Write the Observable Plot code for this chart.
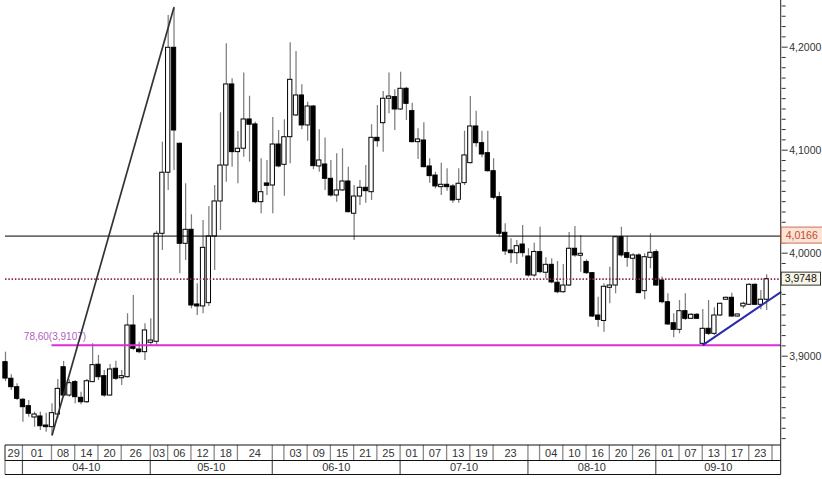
<!DOCTYPE html>
<html><head><meta charset="utf-8">
<script src="https://cdn.jsdelivr.net/npm/d3@7"></script>
<script src="https://cdn.jsdelivr.net/npm/@observablehq/plot@0.6"></script>
<style>html,body{margin:0;padding:0;background:#fff;}</style>
</head><body><div id="chart"></div>
<script>
const dates = ["2010-03-29","2010-03-30","2010-03-31",
"2010-04-01","2010-04-02","2010-04-05","2010-04-06","2010-04-07","2010-04-08","2010-04-09","2010-04-12","2010-04-13","2010-04-14","2010-04-15","2010-04-16","2010-04-19","2010-04-20","2010-04-21","2010-04-22","2010-04-23","2010-04-26","2010-04-27","2010-04-28","2010-04-29","2010-04-30",
"2010-05-03","2010-05-04","2010-05-05","2010-05-06","2010-05-07","2010-05-10","2010-05-11","2010-05-12","2010-05-13","2010-05-14","2010-05-17","2010-05-18","2010-05-19","2010-05-20","2010-05-21","2010-05-24","2010-05-25","2010-05-26","2010-05-27","2010-05-28","2010-05-31",
"2010-06-01","2010-06-02","2010-06-03","2010-06-04","2010-06-07","2010-06-08","2010-06-09","2010-06-10","2010-06-11","2010-06-14","2010-06-15","2010-06-16","2010-06-17","2010-06-18","2010-06-21","2010-06-22","2010-06-23","2010-06-24","2010-06-25","2010-06-28","2010-06-29","2010-06-30",
"2010-07-01","2010-07-02","2010-07-05","2010-07-06","2010-07-07","2010-07-08","2010-07-09","2010-07-12","2010-07-13","2010-07-14","2010-07-15","2010-07-16","2010-07-19","2010-07-20","2010-07-21","2010-07-22","2010-07-23","2010-07-26","2010-07-27","2010-07-28","2010-07-29","2010-07-30",
"2010-08-02","2010-08-03","2010-08-04","2010-08-05","2010-08-06","2010-08-09","2010-08-10","2010-08-11","2010-08-12","2010-08-13","2010-08-16","2010-08-17","2010-08-18","2010-08-19","2010-08-20","2010-08-23","2010-08-24","2010-08-25","2010-08-26","2010-08-27","2010-08-30","2010-08-31",
"2010-09-01","2010-09-02","2010-09-03","2010-09-06","2010-09-07","2010-09-08","2010-09-09","2010-09-10","2010-09-13","2010-09-14","2010-09-15","2010-09-16","2010-09-17","2010-09-20","2010-09-21","2010-09-22","2010-09-23","2010-09-24","2010-09-27","2010-09-28"];

const open = [3.8942,3.8781,3.8699,3.8577,3.8515,3.8405,3.8415,3.8327,3.8311,3.8434,
3.8893,3.8618,3.8748,3.8596,3.8553,3.8748,3.8917,3.8806,3.8618,3.8878,
3.8786,3.8796,3.9298,3.9065,3.9039,3.9130,3.9140,4.0188,4.0781,4.1994,
4.1062,4.0091,4.0227,3.9502,3.9483,3.9515,4.0162,4.0502,4.0851,4.1638,
4.0981,4.1014,4.1298,4.1250,4.0495,4.0677,4.0657,4.1055,4.0858,4.1126,
4.1337,4.1531,4.1240,4.1424,4.0842,4.0861,4.0722,4.0560,4.0609,4.0696,
4.0383,4.0550,4.0635,4.0592,4.1120,4.1262,4.1499,4.1515,4.1395,4.1596,
4.1379,4.1078,4.1094,4.0842,4.0754,4.0641,4.0664,4.0648,4.0518,4.0680,
4.0874,4.1230,4.1068,4.0971,4.0796,4.0544,4.0198,4.0026,4.0000,4.0084,
3.9968,3.9783,4.0010,3.9810,3.9887,3.9713,3.9621,3.9686,4.0043,3.9975,
3.9915,3.9806,3.9395,3.9342,3.9664,3.9686,4.0155,4.0000,3.9946,3.9978,
3.9631,3.9955,4.0010,3.9735,3.9524,3.9320,3.9256,3.9437,3.9363,3.9402,
3.9120,3.9266,3.9217,3.9395,3.9548,3.9567,3.9385,3.9483,3.9499,3.9693,
3.9499,3.9548];

const high = [3.9039,3.8819,3.8732,3.8590,3.8570,3.8456,3.8456,3.8447,3.8538,3.8774,
3.8949,3.8771,3.8764,3.8650,3.8774,3.9120,3.9007,3.8861,3.8919,3.8951,
3.8861,3.9412,3.9589,3.9136,3.9315,3.9363,4.0214,4.1078,4.2308,4.2388,
4.1070,4.0674,4.0373,3.9703,4.0317,4.0453,4.0657,4.1363,4.2033,4.1693,
4.1182,4.1748,4.1524,4.1272,4.0917,4.0900,4.1317,4.1191,4.1295,4.2043,
4.1958,4.1635,4.1466,4.1434,4.1198,4.1117,4.0900,4.0965,4.1014,4.0835,
4.0657,4.0706,4.0851,4.1247,4.1434,4.1570,4.1748,4.1586,4.1757,4.1610,
4.1456,4.1208,4.1266,4.0917,4.0786,4.0874,4.0819,4.0667,4.0819,4.1184,
4.1521,4.1379,4.1184,4.1184,4.0917,4.0592,4.0285,4.0140,4.0123,4.0269,
4.0043,4.0097,4.0252,3.9955,3.9946,3.9919,3.9890,4.0201,4.0259,4.0172,
3.9936,3.9810,3.9573,3.9703,3.9864,4.0160,4.0252,4.0162,3.9994,3.9994,
3.9994,4.0188,4.0033,3.9769,3.9606,3.9412,3.9541,3.9606,3.9415,3.9415,
3.9453,3.9541,3.9470,3.9515,3.9575,3.9612,3.9408,3.9524,3.9703,3.9703,
3.9638,3.9790];

const low = [3.8754,3.8667,3.8570,3.8359,3.8408,3.8311,3.8279,3.8262,3.8230,3.8392,
3.8602,3.8602,3.8538,3.8528,3.8541,3.8745,3.8764,3.8602,3.8612,3.8764,
3.8716,3.8788,3.9055,3.9023,3.8958,3.9104,3.9100,4.0026,4.0609,4.0803,
3.9800,3.9929,3.9460,3.9395,3.9412,3.9483,3.9832,4.0220,4.0689,4.0835,
4.0674,4.0932,4.0883,4.0480,4.0383,4.0560,4.0383,4.0829,4.0553,4.0868,
4.1327,4.1198,4.1087,4.0810,4.0786,4.0609,4.0544,4.0495,4.0600,4.0390,
4.0123,4.0463,4.0485,4.0512,4.1029,4.0981,4.1353,4.1191,4.1385,4.1288,
4.1070,4.0910,4.0830,4.0680,4.0625,4.0560,4.0602,4.0485,4.0485,4.0657,
4.0865,4.1029,4.0926,4.0786,4.0518,4.0155,3.9978,3.9903,3.9890,3.9961,
3.9767,3.9767,3.9800,3.9751,3.9703,3.9606,3.9612,3.9677,3.9961,3.9816,
3.9793,3.9376,3.9282,3.9233,3.9509,3.9606,3.9961,3.9864,3.9751,3.9606,
3.9548,3.9849,3.9677,3.9509,3.9298,3.9179,3.9217,3.9347,3.9357,3.9357,
3.9107,3.9201,3.9201,3.9385,3.9541,3.9379,3.9380,3.9460,3.9493,3.9493,
3.9450,3.9444];

const close = [3.8783,3.8699,3.8586,3.8505,3.8441,3.8434,3.8320,3.8311,3.8447,3.8683,
3.8618,3.8738,3.8602,3.8553,3.8757,3.8913,3.8796,3.8618,3.8871,3.8781,
3.8806,3.9298,3.9072,3.9039,3.9250,3.9152,4.0188,4.0781,4.1994,4.1191,
4.0091,4.0227,3.9492,3.9483,4.0052,4.0162,4.0502,4.0851,4.1638,4.0981,
4.1014,4.1298,4.1247,4.0495,4.0592,4.0654,4.1055,4.0842,4.1126,4.1683,
4.1531,4.1240,4.1424,4.0845,4.0900,4.0722,4.0560,4.0609,4.0696,4.0398,
4.0550,4.0635,4.0602,4.1120,4.1087,4.1499,4.1521,4.1395,4.1596,4.1450,
4.1078,4.1104,4.0835,4.0748,4.0648,4.0664,4.0641,4.0512,4.0674,4.0949,
4.1230,4.1068,4.0958,4.0796,4.0538,4.0188,4.0017,4.0000,4.0068,4.0000,
3.9783,4.0012,3.9816,3.9887,3.9716,3.9621,3.9686,4.0043,3.9978,3.9994,
3.9806,3.9385,3.9353,3.9674,3.9686,4.0155,3.9978,3.9955,3.9978,3.9612,
3.9961,4.0004,3.9686,3.9524,3.9308,3.9256,3.9437,3.9363,3.9402,3.9363,
3.9266,3.9217,3.9395,3.9509,3.9567,3.9385,3.9405,3.9509,3.9693,3.9499,
3.9548,3.9748];

// bottom axis: day boxes (start date, label) and month boxes
const dayLabels = [["2010-03-29","29"],["2010-04-01","01"],["2010-04-08","08"],["2010-04-14","14"],["2010-04-20","20"],["2010-04-26","26"],
["2010-05-03","03"],["2010-05-06","06"],["2010-05-12","12"],["2010-05-18","18"],["2010-05-24","24"],["2010-06-01",""],
["2010-06-03","03"],["2010-06-09","09"],["2010-06-15","15"],["2010-06-21","21"],["2010-06-25","25"],
["2010-07-01","01"],["2010-07-07","07"],["2010-07-13","13"],["2010-07-19","19"],["2010-07-23","23"],["2010-08-02",""],
["2010-08-04","04"],["2010-08-10","10"],["2010-08-16","16"],["2010-08-20","20"],["2010-08-26","26"],
["2010-09-01","01"],["2010-09-07","07"],["2010-09-13","13"],["2010-09-17","17"],["2010-09-23","23"],["2010-09-29",""]];
const monthLabels = [["2010-04-01","04-10"],["2010-05-03","05-10"],["2010-06-01","06-10"],["2010-07-01","07-10"],["2010-08-02","08-10"],["2010-09-01","09-10"]];

// right axis ticks
const majorTicks = [3.9, 4.0, 4.1, 4.2];
const minorTicks = [3.82,3.83,3.84,3.85,3.86,3.87,3.88,3.89,3.91,3.92,3.93,3.94,3.95,3.96,3.97,3.98,3.99,
4.01,4.02,4.03,4.04,4.05,4.06,4.07,4.08,4.09,4.11,4.12,4.13,4.14,4.15,4.16,4.17,4.18,4.19,4.21,4.22,4.23,4.24];

// annotations
const levelBlack = 4.0166;
const levelDotted = 3.9748;
const fib = {from: "2010-04-08", value: 3.9107, label: "78,60(3,9107)"};
const trendLine = {from: "2010-04-08", fromValue: 3.8230, to: "2010-05-07", toValue: 4.2388};
const supportLine = {from: "2010-09-13", fromValue: 3.9107, toValue: 3.9625};

const X_MAX = 133.5, Y_MIN = 3.8133, Y_MAX = 4.2453;
const idx = d => { const k = dates.indexOf(d); return k < 0 ? dates.length : k; };
const fmt = v => v.toFixed(4).replace(".", ",");
const data = dates.map((d, i) => ({i, date: d, open: open[i], high: high[i], low: low[i], close: close[i]}));

const strip = (index, scales, values, dims) => {
  const x = scales.x, y = scales.y;
  const g = d3.create("svg:g");
  const top = dims.height - dims.marginBottom, mid = top + 15.5, bot = top + 29.5;
  const left = dims.marginLeft, right = dims.width - dims.marginRight;
  const font = "'Liberation Sans', Arial, sans-serif";
  // day row
  dayLabels.forEach(([d, lab], k) => {
    const s = idx(d);
    const e = k + 1 < dayLabels.length ? idx(dayLabels[k + 1][0]) : X_MAX;
    g.append("line").attr("x1", x(s)).attr("x2", x(s)).attr("y1", top).attr("y2", mid)
      .attr("stroke", "#8a8a8a").attr("stroke-width", 1.3);
    if (lab) g.append("text").attr("x", (x(s) + x(e)) / 2).attr("y", (top + mid) / 2).attr("dy", "0.36em")
      .attr("text-anchor", "middle").attr("font-family", font).attr("font-size", 11).attr("fill", "#333").text(lab);
  });
  // month row
  g.append("line").attr("x1", left).attr("x2", left).attr("y1", top).attr("y2", bot).attr("stroke", "#666");
  monthLabels.forEach(([d, lab], k) => {
    const s = idx(d);
    const e = k + 1 < monthLabels.length ? idx(monthLabels[k + 1][0]) : X_MAX;
    g.append("line").attr("x1", x(s)).attr("x2", x(s)).attr("y1", mid).attr("y2", bot)
      .attr("stroke", "#555").attr("stroke-width", 1.2);
    g.append("text").attr("x", (x(s) + x(e)) / 2).attr("y", (mid + bot) / 2).attr("dy", "0.36em")
      .attr("text-anchor", "middle").attr("font-family", font).attr("font-size", 11).attr("fill", "#333").text(lab);
  });
  [top, mid, bot].forEach(yy => g.append("line").attr("x1", left).attr("x2", right).attr("y1", yy).attr("y2", yy)
    .attr("stroke", "#111").attr("stroke-width", 1));
  // axis line
  g.append("line").attr("x1", right).attr("x2", right).attr("y1", 0).attr("y2", bot).attr("stroke", "#222");
  // price tags
  const yb = y(levelBlack);
  g.append("rect").attr("x", right + 0.5).attr("y", yb - 8.5).attr("width", dims.width - right).attr("height", 16)
    .attr("fill", "#fce4d4").attr("stroke", "#c8705a").attr("stroke-width", 1);
  g.append("text").attr("x", right + 21).attr("y", yb).attr("dy", "0.36em").attr("text-anchor", "middle")
    .attr("font-family", font).attr("font-size", 10.5).attr("fill", "#c04a32").text(fmt(levelBlack));
  const yd = y(levelDotted);
  g.append("rect").attr("x", right + 0.5).attr("y", yd - 6.5).attr("width", dims.width - right - 2).attr("height", 13)
    .attr("fill", "#f7f5e6").attr("stroke", "#333").attr("stroke-width", 1);
  g.append("text").attr("x", right + 20).attr("y", yd).attr("dy", "0.36em").attr("text-anchor", "middle")
    .attr("font-family", font).attr("font-size", 10.5).attr("fill", "#111").text(fmt(levelDotted));
  return g.node();
};

const chart = Plot.plot({
  width: 822, height: 479,
  marginLeft: 5, marginRight: 41.3, marginTop: 0, marginBottom: 34,
  style: {fontFamily: "'Liberation Sans', Arial, sans-serif", fontSize: "10.5px", background: "#fff"},
  x: {type: "linear", domain: [0, X_MAX], axis: null},
  y: {domain: [Y_MIN, Y_MAX], axis: null, label: null},
  marks: [
    Plot.axisY(minorTicks, {anchor: "right", tickSize: 4, tickFormat: () => "", label: null, color: "#333"}),
    Plot.axisY(majorTicks, {anchor: "right", tickSize: 6, tickPadding: 2, tickFormat: fmt, label: null, color: "#333", fontSize: 10.5}),
    Plot.ruleX(data, {x: "i", y1: "low", y2: "high", stroke: "#7d7d7d", strokeWidth: 1.25}),
    Plot.rect(data, {x1: d => d.i - 0.37, x2: d => d.i + 0.37, y1: "open", y2: "close",
      fill: d => d.close >= d.open ? "#fff" : "#000", stroke: "#000", strokeWidth: 1}),
    Plot.ruleY([levelBlack], {stroke: "#000", strokeWidth: 1}),
    Plot.ruleY([levelDotted], {stroke: "#8e2a4a", strokeWidth: 1.6, strokeDasharray: "1.5,1.8"}),
    Plot.ruleY([fib], {y: "value", x1: d => idx(d.from), x2: () => X_MAX, stroke: "#d92ed9", strokeWidth: 2}),
    Plot.text([fib], {x: d => idx(d.from), y: "value", text: "label", dx: 3, dy: -8, fill: "#b060c0", fontSize: 10}),
    Plot.link([trendLine], {x1: d => idx(d.from), y1: "fromValue", x2: d => idx(d.to), y2: "toValue", stroke: "#333", strokeWidth: 1.7}),
    Plot.link([supportLine], {x1: d => idx(d.from), y1: "fromValue", x2: () => X_MAX, y2: "toValue", stroke: "#2a2aaa", strokeWidth: 2}),
    strip
  ]
});
document.getElementById("chart").appendChild(chart);
</script>
</body></html>
